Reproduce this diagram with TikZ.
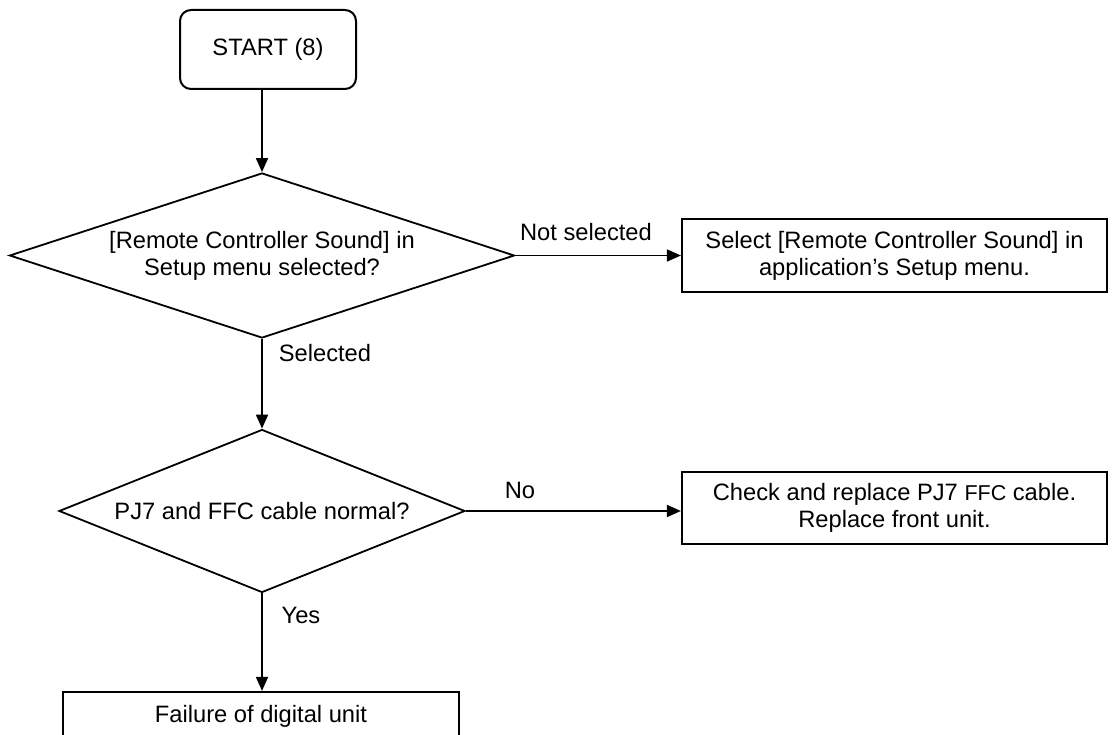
\documentclass[tikz,border=0pt]{standalone}
\usepackage{fontspec}
\setmainfont{Liberation Sans}
\usetikzlibrary{shapes.geometric,arrows.meta}
\tikzset{
  flow/.style={line width=1.8pt,-{Triangle[length=14pt,width=12pt]}},
  box/.style={draw,line width=2.2pt,rectangle,inner sep=0pt,align=center,
    minimum width=425pt,minimum height=73pt},
  startbox/.style={draw,line width=2pt,rectangle,rounded corners=11pt,
    minimum width=176pt,minimum height=79pt},
  decision/.style={draw,line width=1.8pt,diamond,inner sep=0pt,align=center},
  lbl/.style={inner sep=0pt}
}
\begin{document}
\begin{tikzpicture}[x=1pt,y=-1pt,font=\fontsize{23.7}{27}\selectfont]
\useasboundingbox (0,0) rectangle (1120,735);
\clip (0,0) rectangle (1120,735);

\node[startbox] (start) at (268,49.5) {START (8)};

\node[decision,aspect=3.05,minimum width=505pt,minimum height=165pt]
  (dia1) at (262,255.5) {[Remote Controller Sound] in\\Setup menu selected?};

\node[box] (act1) at (894.5,255.5)
  {Select [Remote Controller Sound] in\\application’s Setup menu.};

\node[decision,aspect=2.48,minimum width=406pt,minimum height=163pt]
  (dia2) at (262,511) {PJ7 and FFC cable normal?};

\node[box,minimum height=72pt] (act2) at (894.5,508)
  {Check and replace PJ7 {\fontsize{21.5}{27}\selectfont FFC} cable.\\Replace front unit.};

% last box runs past the lower edge of the page
\node[box,minimum width=396pt,minimum height=48pt] (fail) at (261,716)
  {Failure of digital unit};

\draw[flow] (dia1.north |- start.south) -- (dia1.north);
\draw[flow] (dia1.east) -- (dia1.east -| act1.west);
\draw[flow] (dia1.south) -- (dia2.north);
\draw[flow] (dia2.east) -- (dia2.east -| act2.west);
\draw[flow] (dia2.south) -- (dia2.south |- fail.north);

\node[lbl] at (586,232) {Not selected};
\node[lbl] at (325,353) {Selected};
\node[lbl] at (520,490) {No};
\node[lbl] at (301,615) {Yes};
\end{tikzpicture}
\end{document}
